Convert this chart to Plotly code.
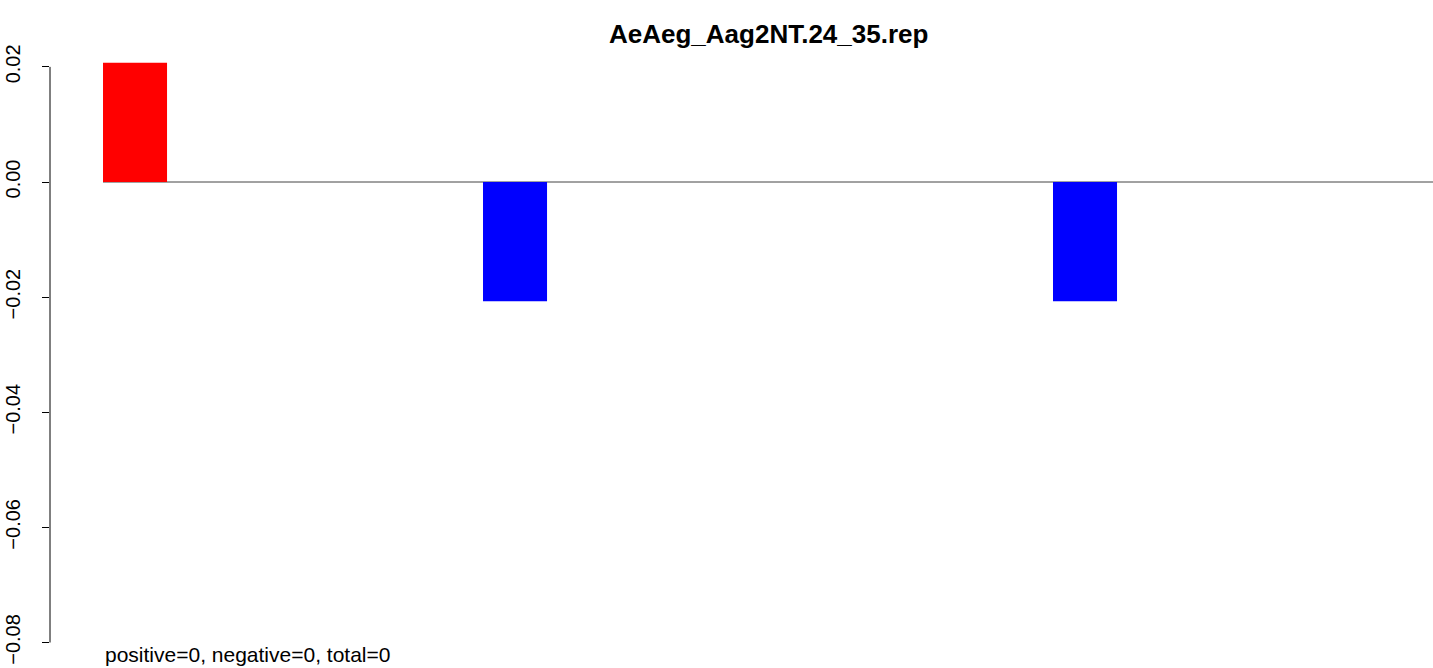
import plotly.graph_objects as go

# Data
positions = list(range(24, 36))
values = [0.0207, 0, 0, 0, -0.0207, 0, 0, 0, 0, 0, -0.0207, 0]
bar_colors = ["red" if v > 0 else "blue" for v in values]
y_ticks = [0.02, 0.00, -0.02, -0.04, -0.06, -0.08]
y_tick_labels = ["0.02", "0.00", "\u22120.02", "\u22120.04", "\u22120.06", "\u22120.08"]
title_text = "AeAeg_Aag2NT.24_35.rep"
summary_text = "positive=0, negative=0, total=0"

FONT = "Liberation Sans, Arial, sans-serif"
W, H = 1433, 668
bar_w = 0.674
x_range = [23.105, 37.663]
y_range = [-0.08443, 0.03162]

fig = go.Figure()
fig.add_trace(go.Bar(x=positions, y=values, width=bar_w,
                     marker=dict(color=bar_colors, line=dict(width=0)),
                     hoverinfo="x+y"))

fig.update_layout(
    width=W, height=H,
    margin=dict(l=50, r=0, t=0, b=0),
    plot_bgcolor="white", paper_bgcolor="white",
    showlegend=False,
    xaxis=dict(range=x_range, visible=False, showgrid=False, zeroline=False),
    yaxis=dict(range=y_range, tickmode="array", tickvals=y_ticks, ticktext=y_tick_labels,
               ticks="outside", ticklen=7, tickwidth=1, tickcolor="black",
               tickangle=-90, showgrid=False, zeroline=False, showline=False,
               ticklabelstandoff=14, automargin=False,
               tickfont=dict(family=FONT, size=20, color="black")),
    font=dict(family=FONT, color="black"),
)

# y axis line spanning only tick range
fig.add_shape(type="line", xref="paper", yref="y", x0=0, x1=0,
              y0=min(y_ticks), y1=max(y_ticks), line=dict(color="black", width=1))
# zero line from first bar edge to right
fig.add_shape(type="line", xref="x", yref="y", x0=positions[0] - bar_w / 2, x1=x_range[1],
              y0=0, y1=0, line=dict(color="#444444", width=1), layer="below")

fig.add_annotation(text="<b>" + title_text + "</b>", xref="paper", yref="paper",
                   x=(768.4 - 50) / (W - 50), y=1 - 34 / H,
                   xanchor="center", yanchor="middle",
                   showarrow=False, font=dict(family=FONT, size=26, color="black"))
fig.add_annotation(text=summary_text, xref="x", yref="paper",
                   x=positions[0] - bar_w / 2, y=1 - 654.5 / H,
                   xanchor="left", yanchor="middle",
                   showarrow=False, font=dict(family=FONT, size=21, color="black"))

fig.write_html("out.html",
               config={"displayModeBar": False},
               post_script="document.body.style.margin='0';document.body.style.overflow='hidden';")
